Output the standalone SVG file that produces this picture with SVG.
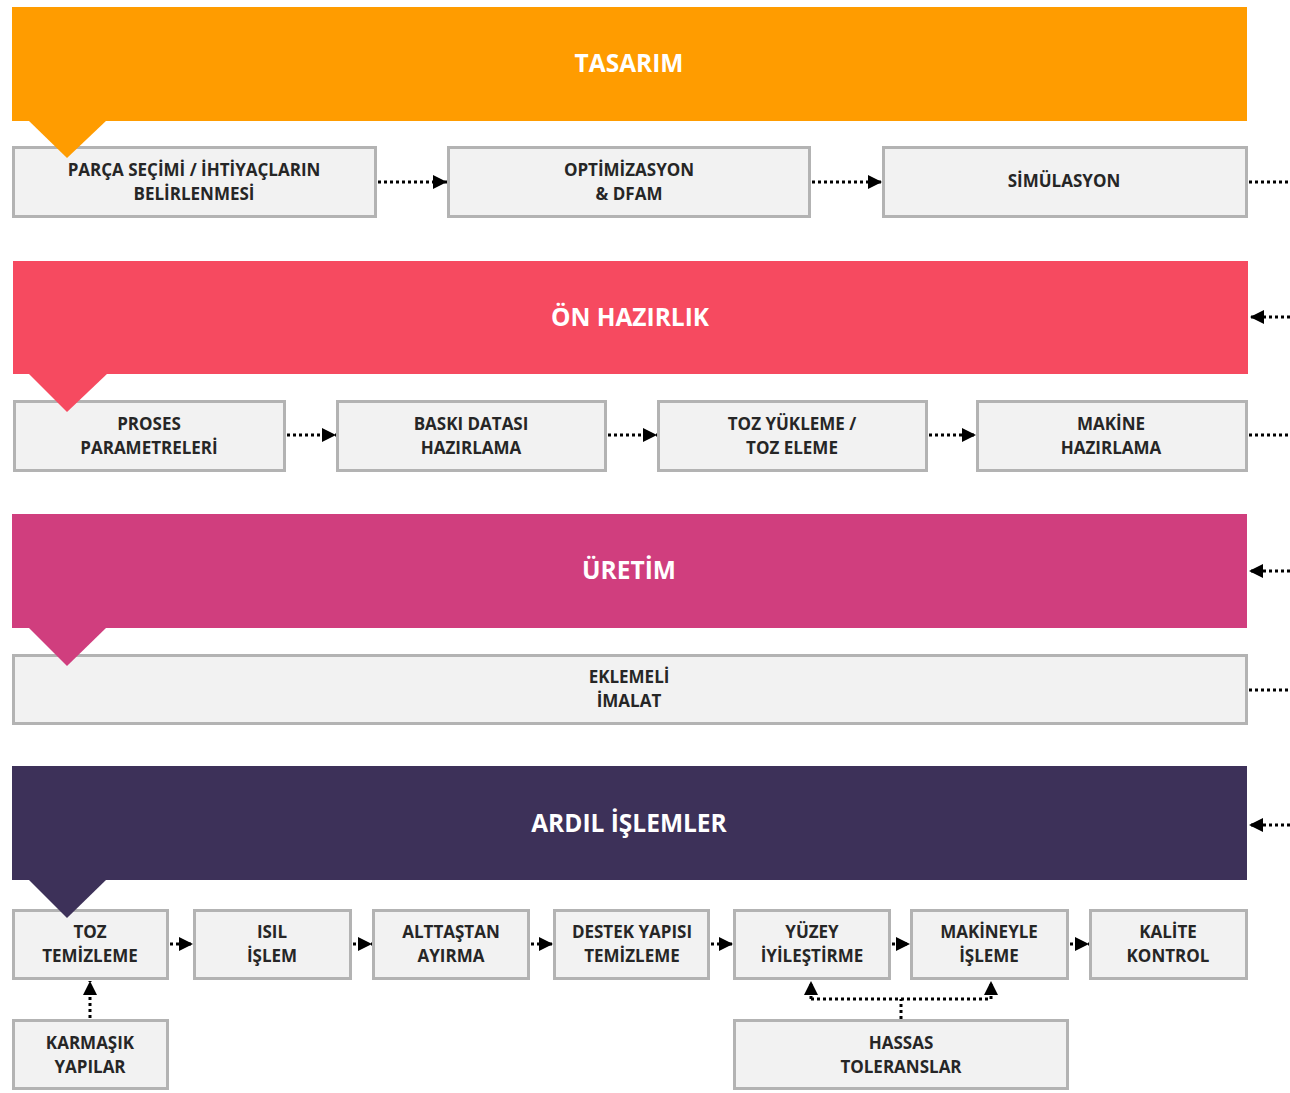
<svg xmlns="http://www.w3.org/2000/svg" width="1290" height="1093" viewBox="0 0 1290 1093">
<defs>
<marker id="ah" viewBox="0 0 10 10" refX="10" refY="5" markerWidth="14" markerHeight="14" markerUnits="userSpaceOnUse" orient="auto">
<path d="M0,0 L10,5 L0,10 z" fill="#000"/>
</marker>
</defs>
<style>
.band text{font-family:"Open Sans","Liberation Sans",sans-serif;font-weight:bold;font-size:24.5px;fill:#fff;text-anchor:middle}
.box rect{fill:#f2f2f2;stroke:#b3b3b3;stroke-width:3}
.box text{font-family:"Open Sans","Liberation Sans",sans-serif;font-weight:bold;font-size:17px;fill:#262626;text-anchor:middle}
.c{fill:none;stroke:#000;stroke-width:3;stroke-dasharray:3 3}
.ca{fill:none;stroke:#000;stroke-width:3;stroke-dasharray:3 3;marker-end:url(#ah)}
</style>
<rect width="1290" height="1093" fill="#fff"/>

<g id="band-tasarim" class="band">
<rect x="12" y="7" width="1235" height="114" fill="#FF9C00"/>
<text x="629" y="72">TASARIM</text>
</g>
<g id="band-onhazirlik" class="band">
<rect x="13" y="261" width="1235" height="113" fill="#F64A60"/>
<text x="630" y="326">ÖN HAZIRLIK</text>
</g>
<g id="band-uretim" class="band">
<rect x="12" y="514" width="1235" height="114" fill="#D03E7E"/>
<text x="629" y="579">ÜRETİM</text>
</g>
<g id="band-ardil" class="band">
<rect x="12" y="766" width="1235" height="114" fill="#3D3159"/>
<text x="629" y="832">ARDIL İŞLEMLER</text>
</g>

<g id="n-parca" class="box"><rect x="13.5" y="147.5" width="362" height="69"/><text x="194" y="176">PARÇA SEÇİMİ / İHTİYAÇLARIN</text><text x="194" y="200">BELİRLENMESİ</text></g>
<g id="n-optim" class="box"><rect x="448.5" y="147.5" width="361" height="69"/><text x="629" y="176">OPTİMİZASYON</text><text x="629" y="200">&amp; DFAM</text></g>
<g id="n-simul" class="box"><rect x="883.5" y="147.5" width="363" height="69"/><text x="1064" y="187">SİMÜLASYON</text></g>

<g id="n-proses" class="box"><rect x="14.5" y="401.5" width="270" height="69"/><text x="149" y="430">PROSES</text><text x="149" y="454">PARAMETRELERİ</text></g>
<g id="n-baski" class="box"><rect x="337.5" y="401.5" width="268" height="69"/><text x="471" y="430">BASKI DATASI</text><text x="471" y="454">HAZIRLAMA</text></g>
<g id="n-toz" class="box"><rect x="658.5" y="401.5" width="268" height="69"/><text x="792" y="430">TOZ YÜKLEME /</text><text x="792" y="454">TOZ ELEME</text></g>
<g id="n-makine" class="box"><rect x="977.5" y="401.5" width="269" height="69"/><text x="1111" y="430">MAKİNE</text><text x="1111" y="454">HAZIRLAMA</text></g>

<g id="n-eklemeli" class="box"><rect x="13.5" y="655.5" width="1233" height="68"/><text x="629" y="683">EKLEMELİ</text><text x="629" y="707">İMALAT</text></g>

<g id="n-tozt" class="box"><rect x="13.5" y="910.5" width="154" height="68"/><text x="90" y="938">TOZ</text><text x="90" y="962">TEMİZLEME</text></g>
<g id="n-isil" class="box"><rect x="194.5" y="910.5" width="156" height="68"/><text x="272" y="938">ISIL</text><text x="272" y="962">İŞLEM</text></g>
<g id="n-alttas" class="box"><rect x="373.5" y="910.5" width="155" height="68"/><text x="451" y="938">ALTTAŞTAN</text><text x="451" y="962">AYIRMA</text></g>
<g id="n-destek" class="box"><rect x="554.5" y="910.5" width="154" height="68"/><text x="632" y="938">DESTEK YAPISI</text><text x="632" y="962">TEMİZLEME</text></g>
<g id="n-yuzey" class="box"><rect x="734.5" y="910.5" width="155" height="68"/><text x="812" y="938">YÜZEY</text><text x="812" y="962">İYİLEŞTİRME</text></g>
<g id="n-makineyle" class="box"><rect x="911.5" y="910.5" width="156" height="68"/><text x="989" y="938">MAKİNEYLE</text><text x="989" y="962">İŞLEME</text></g>
<g id="n-kalite" class="box"><rect x="1090.5" y="910.5" width="156" height="68"/><text x="1168" y="938">KALİTE</text><text x="1168" y="962">KONTROL</text></g>
<g id="n-karmasik" class="box"><rect x="13.5" y="1020.5" width="154" height="68"/><text x="90" y="1049">KARMAŞIK</text><text x="90" y="1073">YAPILAR</text></g>
<g id="n-hassas" class="box"><rect x="734.5" y="1020.5" width="333" height="68"/><text x="901" y="1049">HASSAS</text><text x="901" y="1073">TOLERANSLAR</text></g>

<g id="band-pointers">
<path d="M28,120 L107,120 L67,158 z" fill="#FF9C00"/>
<path d="M28,373 L108,373 L67,412 z" fill="#F64A60"/>
<path d="M28,627 L107,627 L67,666 z" fill="#D03E7E"/>
<path d="M28,879 L107,879 L67,918 z" fill="#3D3159"/>
</g>

<g id="connectors">
<path class="ca" d="M378,182 L447,182"/>
<path class="ca" d="M812,182 L882,182"/>
<path class="c" d="M1249,182 L1290,182"/>
<path class="ca" d="M1290,317 L1250,317"/>
<path class="ca" d="M287,435 L336,435"/>
<path class="ca" d="M608,435 L657,435"/>
<path class="ca" d="M929,435 L976,435"/>
<path class="c" d="M1249,435 L1290,435"/>
<path class="ca" d="M1290,571 L1249,571"/>
<path class="c" d="M1249,690 L1290,690"/>
<path class="ca" d="M1290,825 L1249,825"/>
<path class="ca" d="M170,944 L193,944"/>
<path class="ca" d="M353,944 L372,944"/>
<path class="ca" d="M531,944 L553,944"/>
<path class="ca" d="M711,944 L733,944"/>
<path class="ca" d="M892,944 L910,944"/>
<path class="ca" d="M1070,944 L1089,944"/>
<path class="ca" d="M90,1018 L90,981"/>
<path class="c" d="M901,1019 L901,999"/>
<path class="c" d="M811,999 L991,999"/>
<path class="ca" d="M811,999 L811,981"/>
<path class="ca" d="M991,999 L991,981"/>
</g>
</svg>
